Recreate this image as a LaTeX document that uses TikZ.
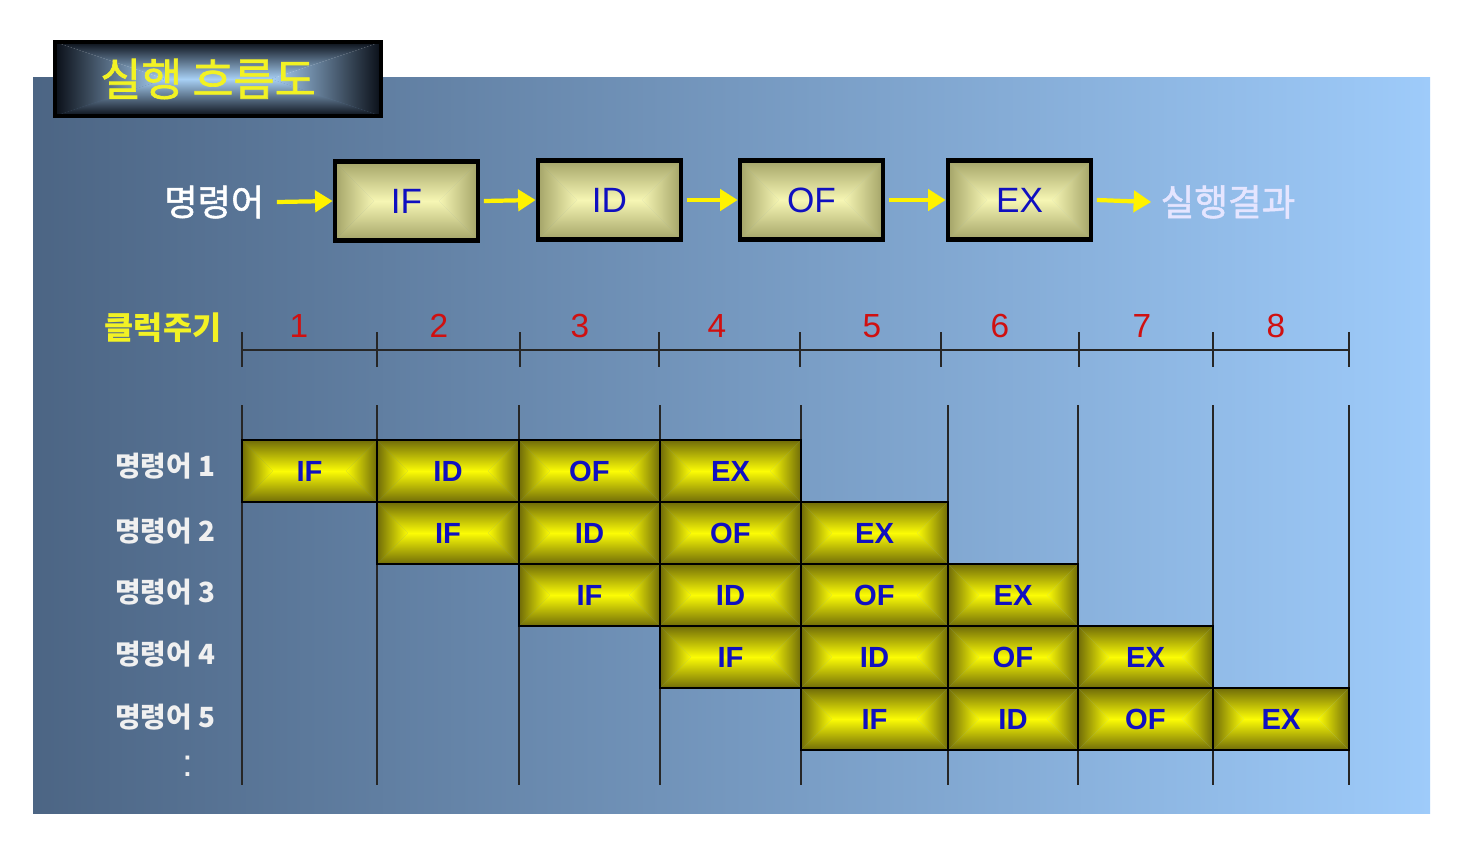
\documentclass[tikz,border=0pt]{standalone}
\usepackage{fontspec}
\setmainfont{Liberation Sans}
\newfontfamily\kr{Noto Sans CJK KR}
\newfontfamily\krmid[FakeBold=1.5]{Noto Sans CJK KR}
\usetikzlibrary{arrows.meta,calc}

\definecolor{panelleft}{HTML}{4C6584}
\definecolor{panelright}{HTML}{9ECBFA}
\definecolor{celledge}{HTML}{706C08}
\definecolor{cellmid}{HTML}{FCFC05}
\definecolor{stageedge}{HTML}{A4A468}
\definecolor{stagemid}{HTML}{F6F6B4}
\definecolor{titleedge}{HTML}{0A0F18}
\definecolor{titlemid}{HTML}{A8D0F5}
\definecolor{textblue}{HTML}{1010C0}
\definecolor{labelyellow}{HTML}{F2F224}
\definecolor{tickred}{HTML}{D01010}

% four shaded pieces: dark at the border, bright in the middle
% #1 edge, #2 between, #3 centre, #4 inset left/right, #5 inset top/bottom
\newcommand\bevelfill[5]{%
  \coordinate (bnw) at (path picture bounding box.north west);
  \coordinate (bne) at (path picture bounding box.north east);
  \coordinate (bsw) at (path picture bounding box.south west);
  \coordinate (bse) at (path picture bounding box.south east);
  \shade[top color=#1, middle color=#2, bottom color=#3] (bnw) -- (bne) -- ($(bne)+(-#4,-#5)$) -- ($(bnw)+(#4,-#5)$) -- cycle;
  \shade[top color=#3, middle color=#2, bottom color=#1] (bsw) -- (bse) -- ($(bse)+(-#4,#5)$) -- ($(bsw)+(#4,#5)$) -- cycle;
  \shade[left color=#1, middle color=#2, right color=#3] (bnw) -- (bsw) -- ($(bsw)+(#4,#5)$) -- cycle;
  \shade[left color=#3, middle color=#2, right color=#1] (bne) -- (bse) -- ($(bse)+(-#4,#5)$) -- cycle;
}

\tikzset{
  cell/.style={draw=black, line width=0.8pt, minimum height=0.62cm, inner sep=0pt,
    text=textblue, font=\fontsize{8.3}{10}\selectfont\bfseries,
    path picture={\bevelfill{celledge}{celledge!35!cellmid}{cellmid}{0.31cm}{0.31cm}}},
  stagebox/.style={draw=black, line width=1.3pt, minimum width=1.43cm, minimum height=0.79cm,
    inner sep=0pt, text=textblue, font=\fontsize{10}{12}\selectfont,
    path picture={\bevelfill{stageedge}{stageedge!45!stagemid}{stagemid}{0.395cm}{0.395cm}}},
  titlebox/.style={draw=black, line width=1pt, minimum width=3.26cm, minimum height=0.74cm,
    inner sep=0pt,
    path picture={\bevelfill{titleedge}{titlemid!60!titleedge}{titlemid}{1.1cm}{0.37cm}}},
  flowarrow/.style={draw=yellow, line width=1.2pt, -{Triangle[length=5pt,width=6pt]}},
  gridline/.style={draw=black!85, line width=0.6pt},
  rowlabel/.style={anchor=east, inner sep=0pt, text=white!94!black, font=\kr\bfseries\fontsize{7.9}{9}\selectfont},
  ticknum/.style={text=tickred, font=\fontsize{9.5}{11}\selectfont},
}

\begin{document}
\begin{tikzpicture}[x=0.01cm, y=-0.01cm]
  \useasboundingbox (0,0) rectangle (1466,848);
  \fill[white] (0,0) rectangle (1466,848);
  \shade[left color=panelleft, right color=panelright] (33,77) rectangle (1430,813);

  % title
  \node[titlebox] (title) at (218,79) {};
  \node[text=labelyellow, font=\krmid\fontsize{12.7}{14}\selectfont] (titletext) at (208,79) {실행 흐름도};

  % stages
  \node[anchor=east, inner sep=0pt, text=white, font=\krmid\fontsize{10.3}{12}\selectfont] (instr) at (265,202) {명령어};
  \node[stagebox] (if) at (406.5,201) {IF};
  \node[stagebox] (id) at (609.5,200) {ID};
  \node[stagebox] (of) at (811.5,200) {OF};
  \node[stagebox] (ex) at (1019.5,200) {EX};
  \node[anchor=west, inner sep=0pt, text=white!90!blue, font=\krmid\fontsize{10.4}{12}\selectfont] (result) at (1160,202) {실행결과};
  \draw[flowarrow] ([xshift=3.4pt]instr.east) -- (if.west);
  \draw[flowarrow] ([xshift=1pt]if.east) -- (id.west);
  \draw[flowarrow] ([xshift=1pt]id.east) -- (of.west);
  \draw[flowarrow] ([xshift=1pt]of.east) -- (ex.west);
  \draw[flowarrow] ([xshift=1pt]ex.east) -- ([xshift=-2.5pt]result.west);

  % clock cycles
  \node[anchor=east, inner sep=0pt, text=labelyellow, font=\kr\bfseries\fontsize{9}{10}\selectfont] (clock) at (222,328) {클럭주기};
  \draw[gridline] (242,350) -- (1349,350);
  \draw[gridline] (242,332) -- (242,367);
  \draw[gridline] (377,332) -- (377,367);
  \draw[gridline] (520,332) -- (520,367);
  \draw[gridline] (659,332) -- (659,367);
  \draw[gridline] (800,332) -- (800,367);
  \draw[gridline] (941,332) -- (941,367);
  \draw[gridline] (1079,332) -- (1079,367);
  \draw[gridline] (1213,332) -- (1213,367);
  \draw[gridline] (1349,332) -- (1349,367);
  \node[ticknum] (t1) at (299,326) {1};
  \node[ticknum] (t2) at (439,326) {2};
  \node[ticknum] (t3) at (580,326) {3};
  \node[ticknum] (t4) at (717,326) {4};
  \node[ticknum] (t5) at (872,326) {5};
  \node[ticknum] (t6) at (1000,326) {6};
  \node[ticknum] (t7) at (1142,326) {7};
  \node[ticknum] (t8) at (1276,326) {8};

  % pipeline grid
  \draw[gridline] (242,405) -- (242,785);
  \draw[gridline] (377,405) -- (377,785);
  \draw[gridline] (519,405) -- (519,785);
  \draw[gridline] (660,405) -- (660,785);
  \draw[gridline] (801,405) -- (801,785);
  \draw[gridline] (948,405) -- (948,785);
  \draw[gridline] (1078,405) -- (1078,785);
  \draw[gridline] (1213,405) -- (1213,785);
  \draw[gridline] (1349,405) -- (1349,785);

  \node[rowlabel] (row1) at (216,466) {명령어 1};
  \node[rowlabel] (row2) at (216,531) {명령어 2};
  \node[rowlabel] (row3) at (216,592) {명령어 3};
  \node[rowlabel] (row4) at (216,654) {명령어 4};
  \node[rowlabel] (row5) at (216,717) {명령어 5};
  \node[text=white!94!black, font=\fontsize{11}{12}\selectfont] (more) at (188,766) {:};

  \node[cell, minimum width=1.35cm] (r1c1) at (309.5,471) {IF};
  \node[cell, minimum width=1.42cm] (r1c2) at (448,471) {ID};
  \node[cell, minimum width=1.41cm] (r1c3) at (589.5,471) {OF};
  \node[cell, minimum width=1.41cm] (r1c4) at (730.5,471) {EX};

  \node[cell, minimum width=1.42cm] (r2c2) at (448,533) {IF};
  \node[cell, minimum width=1.41cm] (r2c3) at (589.5,533) {ID};
  \node[cell, minimum width=1.41cm] (r2c4) at (730.5,533) {OF};
  \node[cell, minimum width=1.47cm] (r2c5) at (874.5,533) {EX};

  \node[cell, minimum width=1.41cm] (r3c3) at (589.5,595) {IF};
  \node[cell, minimum width=1.41cm] (r3c4) at (730.5,595) {ID};
  \node[cell, minimum width=1.47cm] (r3c5) at (874.5,595) {OF};
  \node[cell, minimum width=1.30cm] (r3c6) at (1013,595) {EX};

  \node[cell, minimum width=1.41cm] (r4c4) at (730.5,657) {IF};
  \node[cell, minimum width=1.47cm] (r4c5) at (874.5,657) {ID};
  \node[cell, minimum width=1.30cm] (r4c6) at (1013,657) {OF};
  \node[cell, minimum width=1.35cm] (r4c7) at (1145.5,657) {EX};

  \node[cell, minimum width=1.47cm] (r5c5) at (874.5,719) {IF};
  \node[cell, minimum width=1.30cm] (r5c6) at (1013,719) {ID};
  \node[cell, minimum width=1.35cm] (r5c7) at (1145.5,719) {OF};
  \node[cell, minimum width=1.36cm] (r5c8) at (1281,719) {EX};
\end{tikzpicture}
\end{document}
